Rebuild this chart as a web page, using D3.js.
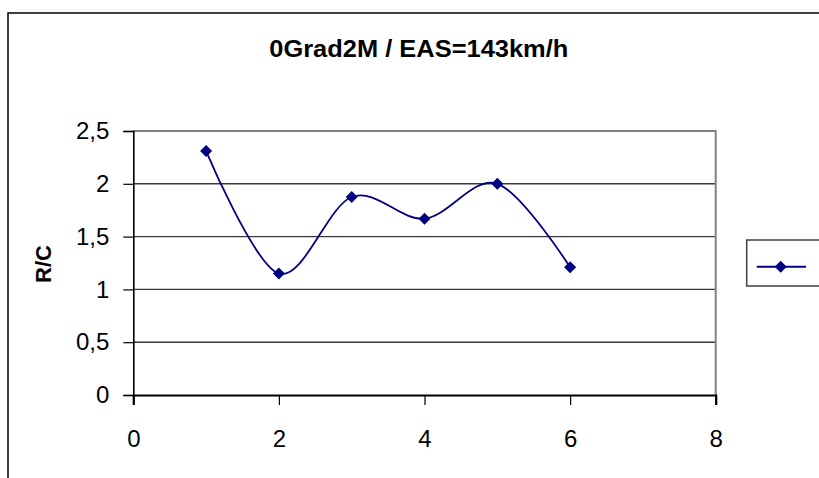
<!DOCTYPE html>
<html>
<head>
<meta charset="utf-8">
<script src="https://cdn.jsdelivr.net/npm/d3@7"></script>
<style>
  body { margin: 0; background: #fff; }
  svg { display: block; font-family: "Liberation Sans", Arial, sans-serif; }
  .tick text { font-size: 24px; }
</style>
</head>
<body>
<svg width="819" height="478"></svg>
<script>
(function() {
  // chart data
  var xValues = [1, 2, 3, 4, 5, 6];
  var rcValues = [2.31, 1.15, 1.875, 1.67, 2.0, 1.21];
  var xTicks = [0, 2, 4, 6, 8];
  var yTicks = [0, 0.5, 1, 1.5, 2, 2.5];
  var title = "0Grad2M / EAS=143km/h";
  var yTitle = "R/C";

  var svg = d3.select("svg");
  var navy = "#000080";

  var x = d3.scaleLinear().domain([0, 8]).range([133.3, 715.7]);
  var y = d3.scaleLinear().domain([0, 2.5]).range([395, 131]);

  var fmt = function(d) { return String(d).replace(".", ","); };

  // outer chart frame
  svg.append("rect")
      .attr("x", 8).attr("y", 13)
      .attr("width", 830).attr("height", 500)
      .attr("fill", "none")
      .attr("stroke", "#000")
      .attr("stroke-width", 1.5);

  // title
  svg.append("text")
      .attr("x", 418.8)
      .attr("y", 56.5)
      .attr("text-anchor", "middle")
      .style("font-size", "23.5px")
      .attr("font-weight", "bold")
      .attr("textLength", 299)
      .attr("lengthAdjust", "spacingAndGlyphs")
      .text(title);

  // gridlines
  svg.append("g")
    .selectAll("line")
    .data(yTicks.filter(function(d) { return d > 0 && d < 2.5; }))
    .enter().append("line")
      .attr("x1", x(0)).attr("x2", x(8))
      .attr("y1", function(d) { return y(d); })
      .attr("y2", function(d) { return y(d); })
      .attr("stroke", "#3a3a3a")
      .attr("stroke-width", 1.4);

  // plot area top and right border
  svg.append("path")
      .attr("d", "M" + x(0) + "," + y(2.5) + "H" + x(8) + "V" + y(0))
      .attr("fill", "none")
      .attr("stroke", "#808080")
      .attr("stroke-width", 2);

  // axes
  var gy = svg.append("g")
      .attr("transform", "translate(" + x(0) + ",0)")
      .call(d3.axisLeft(y).tickValues(yTicks).tickSize(10).tickPadding(14).tickFormat(fmt));

  var gx = svg.append("g")
      .attr("transform", "translate(0," + y(0) + ")")
      .call(d3.axisBottom(x).tickValues(xTicks).tickSize(10).tickPadding(25).tickFormat(fmt));

  [gy, gx].forEach(function(g) {
    g.attr("font-size", null).attr("font-family", null);
    g.select(".domain").attr("stroke", "#000").attr("stroke-width", 1.6);
    g.selectAll(".tick line").attr("stroke", "#000").attr("stroke-width", 1.2);
    g.selectAll(".tick text").attr("fill", "#000");
  });
  gx.select(".domain").attr("stroke-width", 2.2);

  // y axis title
  svg.append("text")
      .attr("transform", "translate(51,264) rotate(-90)")
      .attr("text-anchor", "middle")
      .style("font-size", "22px")
      .attr("font-weight", "bold")
      .text(yTitle);

  // smoothed series line
  var line = d3.line()
      .x(function(d, i) { return x(xValues[i]); })
      .y(function(d) { return y(d); })
      .curve(d3.curveCardinal.tension(0));

  svg.append("path")
      .datum(rcValues)
      .attr("d", line)
      .attr("fill", "none")
      .attr("stroke", navy)
      .attr("stroke-width", 1.8);

  var diamond = d3.symbol().type(d3.symbolDiamond2).size(92);

  svg.append("g")
    .selectAll("path")
    .data(rcValues)
    .enter().append("path")
      .attr("transform", function(d, i) {
        return "translate(" + x(xValues[i]) + "," + y(d) + ")";
      })
      .attr("d", diamond)
      .attr("fill", navy);

  // legend
  var lg = svg.append("g").attr("transform", "translate(746.7,240)");
  lg.append("rect")
      .attr("width", 100).attr("height", 46)
      .attr("fill", "#fff")
      .attr("stroke", "#404040")
      .attr("stroke-width", 1.5);
  lg.append("line")
      .attr("x1", 10).attr("x2", 59.3)
      .attr("y1", 26.7).attr("y2", 26.7)
      .attr("stroke", navy)
      .attr("stroke-width", 2);
  lg.append("path")
      .attr("transform", "translate(34,26.7)")
      .attr("d", diamond)
      .attr("fill", navy);
})();
</script>
</body>
</html>
